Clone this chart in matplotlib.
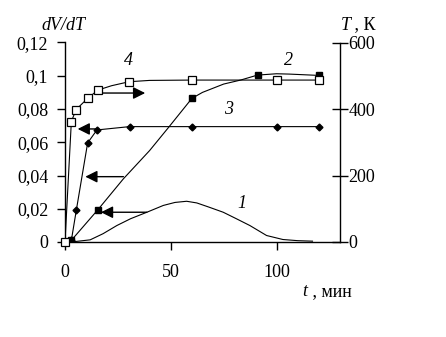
import matplotlib
matplotlib.use("Agg")
import matplotlib.pyplot as plt
from matplotlib.ticker import FixedLocator, FixedFormatter

# ---- data ----
# curve 1 (dV/dT, no markers)
t1 = [0, 5, 11.9, 18, 24.5, 31, 38.7, 46.5, 52, 57.5, 62.3, 68, 74.8, 81, 87.4, 95.3, 103, 110, 117]
v1 = [0, 0.0003, 0.0013, 0.005, 0.0099, 0.014, 0.0179, 0.022, 0.0238, 0.0245, 0.0235, 0.021,
      0.0179, 0.014, 0.0099, 0.0039, 0.0015, 0.0008, 0.0005]

# curve 2 (filled squares) - line points and markers
t2_line = [3, 15.6, 27.6, 40, 49, 60, 65, 75, 83, 91, 100, 106, 120]
v2_line = [0.001, 0.0195, 0.038, 0.055, 0.069, 0.0864, 0.09, 0.095, 0.0974, 0.1004, 0.1012, 0.101, 0.1002]
t2_mk = [3, 15.6, 60, 91, 120]
v2_mk = [0.001, 0.0195, 0.0864, 0.1004, 0.1002]

# curve 3 (filled diamonds)
t3 = [3, 5.4, 10.7, 15.1, 30.5, 60, 100, 120]
v3 = [0.001, 0.0195, 0.0596, 0.0674, 0.0694, 0.0694, 0.0694, 0.0694]

# curve 4 (open squares, temperature T, K on the right axis)
t4_line = [0, 3, 5.2, 10.7, 15.6, 22, 30.3, 40, 60, 100, 120]
T4_line = [0, 362, 398, 432, 457, 470, 482, 486, 487, 487, 487]
t4_mk = [0, 3, 5.2, 10.7, 15.6, 30.3, 60, 100, 120]
T4_mk = [0, 362, 398, 432, 457, 482, 487, 487, 487]

# arrows: (t_start, t_end, y)
arrow1 = (38.7, 17.0, 0.0179)
arrow2 = (27.6, 9.6, 0.0393)
arrow3 = (15.1, 6.0, 0.0680)
arrow4 = (17.9, 37.9, 448)   # in K, right axis

left_ticks = [0, 0.02, 0.04, 0.06, 0.08, 0.1, 0.12]
left_labels = ["0", "0,02", "0,04", "0,06", "0,08", "0,1", "0,12"]
right_ticks = [0, 200, 400, 600]
x_ticks = [0, 50, 100]

curve_labels = ["1", "2", "3", "4"]
curve_label_pos = [(83.5, 0.023), (105.5, 0.109), (77.2, 0.080), (30.0, 0.109)]

# ---- figure ----
plt.rcParams['font.family'] = ['Liberation Serif', 'DejaVu Serif']
FS = 13
fig = plt.figure(figsize=(4.46, 3.37), dpi=100)
ax = fig.add_axes([65/446, 1 - 242/337, (340 - 65)/446, (242 - 42.5)/337])
ax2 = ax.twinx()

ax.set_xlim(0, 130)
ax.set_ylim(0, 0.12)
ax2.set_ylim(0, 600)

lw = 0.8
ax.plot(t1, v1, color='black', lw=lw)
ax.plot(t2_line, v2_line, color='black', lw=lw)
ax.plot(t2_mk, v2_mk, ls='none', marker='s', ms=4, color='black')
ax.plot(t3, v3, color='black', lw=lw, marker='D', ms=3.5, mfc='black', mec='black')
ax2.plot(t4_line, T4_line, color='black', lw=lw)
ax2.plot(t4_mk, T4_mk, ls='none', marker='s', ms=6, mfc='white', mec='black', mew=0.9, clip_on=False)

def arrow(a, tup):
    x0, x1, y = tup
    a.annotate('', xy=(x1, y), xytext=(x0, y),
               arrowprops=dict(arrowstyle='-|>,head_length=0.6,head_width=0.3',
                               color='black', lw=1.0, shrinkA=0, shrinkB=0,
                               mutation_scale=12))

arrow(ax, arrow1)
arrow(ax, arrow2)
arrow(ax, arrow3)
arrow(ax2, arrow4)

for lab, (x, y) in zip(curve_labels, curve_label_pos):
    ax.text(x, y, lab, fontsize=FS, style='italic', ha='center', va='center')

# spines
for a in (ax, ax2):
    a.spines['top'].set_visible(False)
ax2.spines['left'].set_visible(False)
ax2.spines['bottom'].set_visible(False)
ax.spines['right'].set_visible(False)
for s in ('left', 'bottom'):
    ax.spines[s].set_linewidth(1.0)
ax2.spines['right'].set_linewidth(1.0)

ax.xaxis.set_major_locator(FixedLocator(x_ticks))
ax.set_xticklabels([str(v) for v in x_ticks])
ax.yaxis.set_major_locator(FixedLocator(left_ticks))
ax.yaxis.set_major_formatter(FixedFormatter(left_labels))
ax2.yaxis.set_major_locator(FixedLocator(right_ticks))
ax2.set_yticklabels([str(v) for v in right_ticks])

ax.tick_params(axis='x', direction='out', length=6, width=1.0, labelsize=FS, pad=10)
ax.tick_params(axis='y', direction='out', length=6, width=1.0, labelsize=FS, pad=6)
ax2.tick_params(axis='y', direction='inout', length=12, width=1.0, labelsize=FS, pad=0)

# axis titles
fig.text(63/446, 1 - 25/337, 'dV/dT', fontsize=FS, style='italic', ha='center', va='center')
fig.text(341/446, 1 - 25/337, 'T', fontsize=FS, style='italic', ha='left', va='center')
fig.text(350/446, 1 - 25/337, ' , К', fontsize=FS, ha='left', va='center')
fig.text(302/446, 1 - 292/337, 't', fontsize=FS, style='italic', ha='left', va='center')
fig.text(308/446, 1 - 292/337, ' , мин', fontsize=FS, ha='left', va='center')

fig.savefig('out.png', dpi=100)
